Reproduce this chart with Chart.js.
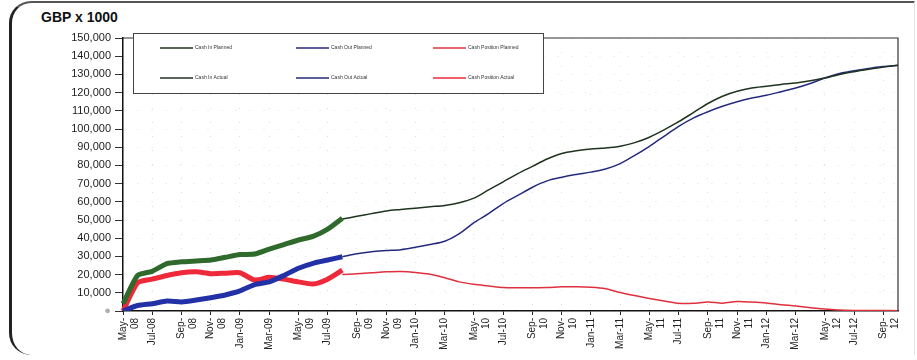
<!DOCTYPE html>
<html>
<head>
<meta charset="utf-8">
<script src="https://cdn.jsdelivr.net/npm/chart.js@4"></script>
<style>
  body { margin: 0; background: #fff; }
  #wrap { position: relative; width: 917px; height: 360px; }
  #marco {
    position: absolute; left: 9px; top: 1px; width: 902px; height: 352px;
    border-left: 3px solid #222; border-top: 2px solid #555; border-right: 1px solid #e4e4e4;
    border-radius: 22px 0 0 22px; pointer-events: none;
  }
  #titulo {
    position: absolute; left: 41px; top: 9px;
    font: bold 14px "Liberation Sans", Arial, sans-serif; color: #111;
  }
  canvas { position: absolute; left: 0; top: 0; }
</style>
</head>
<body>
<div id="wrap">
  <div id="marco"></div>
  <div id="titulo">GBP x 1000</div>
  <canvas id="myChart" width="917" height="360"></canvas>
</div>
<script>
// meses May-08 .. Oct-12
const meses = ['May-08','Jun-08','Jul-08','Aug-08','Sep-08','Oct-08','Nov-08','Dec-08',
  'Jan-09','Feb-09','Mar-09','Apr-09','May-09','Jun-09','Jul-09','Aug-09','Sep-09','Oct-09','Nov-09','Dec-09',
  'Jan-10','Feb-10','Mar-10','Apr-10','May-10','Jun-10','Jul-10','Aug-10','Sep-10','Oct-10','Nov-10','Dec-10',
  'Jan-11','Feb-11','Mar-11','Apr-11','May-11','Jun-11','Jul-11','Aug-11','Sep-11','Oct-11','Nov-11','Dec-11',
  'Jan-12','Feb-12','Mar-12','Apr-12','May-12','Jun-12','Jul-12','Aug-12','Sep-12','Oct-12'];

// etiquetas visibles, cada dos meses
const etiquetasX = [['May-','08'],'Jul-08',['Sep-','08'],['Nov-','08'],'Jan-09','Mar-09',['May-','09'],'Jul-09',
  ['Sep-','09'],['Nov-','09'],'Jan-10','Mar-10',['May-','10'],'Jul-10',['Sep-','10'],['Nov-','10'],'Jan-11',
  'Mar-11',['May-','11'],'Jul-11',['Sep-','11'],['Nov-','11'],'Jan-12','Mar-12',['May-','12'],'Jul-12',['Sep-','12']];

// reales: May-08 .. Aug-09
const cashInActual  = [4000, 19500, 21800, 26000, 27000, 27500, 28000, 29500, 31000, 31300, 34000, 36500, 39000, 41000, 45000, 51000];
const cashOutActual = [0, 3000, 4000, 5500, 5000, 6000, 7300, 8800, 11000, 14500, 16000, 19500, 23500, 26200, 28000, 29800];
const cashPosActual = [0, 15500, 17500, 19500, 21000, 21500, 20500, 20800, 21000, 17000, 18500, 17500, 16000, 14800, 17500, 22500];

// planificado: Aug-09 .. Oct-12
const cashInPlanned = [50500, 52000, 53500, 55000, 55800, 56500, 57300, 58000, 59500, 62000, 66500, 71000, 75500,
  79500, 83500, 86500, 88000, 89000, 89500, 90500, 92500, 95500, 99500, 104000, 109000, 114000, 118000, 120700,
  122500, 123500, 124500, 125300, 126500, 128000, 130000, 131500, 132800, 134000, 135000];
const cashOutPlanned = [29800, 31500, 32600, 33200, 33700, 35000, 36500, 38300, 42500, 48500, 53500, 59000, 63500,
  68000, 71500, 73500, 75000, 76300, 78000, 81000, 85500, 90500, 96000, 101500, 106000, 109500, 112500, 115000,
  117000, 118500, 120500, 122500, 125000, 128000, 130500, 132000, 133300, 134300, 135000];
const cashPosPlanned = [20000, 20500, 21000, 21500, 21700, 21200, 20200, 18300, 16000, 14700, 13800, 12900, 12800,
  12800, 12900, 13300, 13300, 13000, 12200, 10200, 8500, 6900, 5500, 4200, 4200, 5000, 4300, 5200, 4900, 4400,
  3500, 2700, 1800, 1100, 500, 300, 300, 300, 200];

const inicioPlan = meses.length - cashInPlanned.length;

function serieReal(valores) {
  return valores.concat(new Array(meses.length - valores.length).fill(null));
}
function seriePlan(valores) {
  return new Array(inicioPlan).fill(null).concat(valores);
}

const fuente = '"Liberation Sans", Arial, sans-serif';

const colores = {
  inPlan: '#1f331f', outPlan: '#252b7c', posPlan: '#e0303f',
  inReal: '#2f6a2c', outReal: '#2232a6', posReal: '#ee2a3a'
};

// leyenda dibujada dentro del area, en una caja
const leyendaCaja = {
  id: 'leyendaCaja',
  afterDraw(chart) {
    const ctx = chart.ctx;
    const area = chart.chartArea;
    ctx.save();
    // marco del area de grafico (arriba y derecha)
    ctx.strokeStyle = '#333';
    ctx.lineWidth = 1.2;
    ctx.beginPath();
    ctx.moveTo(area.left, area.top);
    ctx.lineTo(area.right, area.top);
    ctx.lineTo(area.right, area.bottom);
    ctx.stroke();

    const x0 = 133, y0 = 33, w = 410, h = 60;
    ctx.fillStyle = '#fff';
    ctx.fillRect(x0, y0, w, h);
    ctx.strokeStyle = '#444';
    ctx.lineWidth = 1;
    ctx.strokeRect(x0 + 0.5, y0 + 0.5, w, h);

    const items = [
      ['Cash In Planned', colores.inPlan, 0, 0], ['Cash Out Planned', colores.outPlan, 1, 0], ['Cash Position Planned', colores.posPlan, 2, 0],
      ['Cash In Actual', colores.inPlan, 0, 1], ['Cash Out Actual', colores.outPlan, 1, 1], ['Cash Position Actual', colores.posReal, 2, 1]
    ];
    const colX = [160, 296, 433];
    const filaY = [48, 78];
    ctx.font = '5px ' + fuente;
    ctx.textBaseline = 'middle';
    items.forEach(([texto, color, c, f]) => {
      const x = colX[c], y = filaY[f];
      ctx.strokeStyle = color;
      ctx.lineWidth = 1.5;
      ctx.beginPath();
      ctx.moveTo(x, y);
      ctx.lineTo(x + 33, y);
      ctx.stroke();
      ctx.fillStyle = '#333';
      ctx.fillText(texto, x + 35, y);
    });
    ctx.restore();
  }
};

const myChartCtx = document.querySelector('#myChart').getContext('2d');

const myChart = new Chart(myChartCtx, {
  type: 'line',
  data: {
    labels: meses,
    datasets: [
      { label: 'Cash In Actual', data: serieReal(cashInActual), borderColor: colores.inReal, borderWidth: 5, tension: 0.2, order: 1 },
      { label: 'Cash Out Actual', data: serieReal(cashOutActual), borderColor: colores.outReal, borderWidth: 5, tension: 0.2, order: 2 },
      { label: 'Cash Position Actual', data: serieReal(cashPosActual), borderColor: colores.posReal, borderWidth: 5, tension: 0.2, order: 3 },
      { label: 'Cash In Planned', data: seriePlan(cashInPlanned), borderColor: colores.inPlan, borderWidth: 1.5, tension: 0.3, order: 4 },
      { label: 'Cash Out Planned', data: seriePlan(cashOutPlanned), borderColor: colores.outPlan, borderWidth: 1.5, tension: 0.3, order: 5 },
      { label: 'Cash Position Planned', data: seriePlan(cashPosPlanned), borderColor: colores.posPlan, borderWidth: 1.5, tension: 0.3, order: 6 }
    ]
  },
  options: {
    responsive: false,
    animation: false,
    elements: { point: { radius: 0 } },
    layout: { padding: { top: 38, right: 19, left: 0, bottom: 0 } },
    plugins: { legend: { display: false }, tooltip: { enabled: false } },
    scales: {
      x: {
        offset: false,
        grid: {
          color: 'rgba(0,0,0,0.13)',
          tickColor: '#222',
          tickLength: 4,
          tickBorderDash: []
        },
        border: { color: '#111', width: 1.5, dash: [1, 13] },
        ticks: {
          autoSkip: false,
          maxRotation: 90,
          minRotation: 90,
          padding: 3,
          color: '#222',
          font: { family: fuente, size: 10 },
          callback: (valor, i) => (i % 2 === 0 ? etiquetasX[i / 2] : null)
        },
        afterFit(scale) { scale.height = 49; }
      },
      y: {
        min: 0,
        max: 150000,
        grid: {
          color: 'rgba(0,0,0,0.13)',
          tickColor: '#333',
          tickLength: 8,
          tickBorderDash: []
        },
        border: { color: '#111', width: 1.5, dash: [1, 13] },
        ticks: {
          stepSize: 10000,
          padding: 4,
          color: (c) => (c.tick.value === 0 ? '#b0b0b0' : '#222'),
          font: { family: fuente, size: 11 },
          callback: (v) => (v === 0 ? '●' : v.toLocaleString('en-US'))
        },
        afterFit(scale) { scale.width = 123; }
      }
    }
  },
  plugins: [leyendaCaja]
});
</script>
</body>
</html>
